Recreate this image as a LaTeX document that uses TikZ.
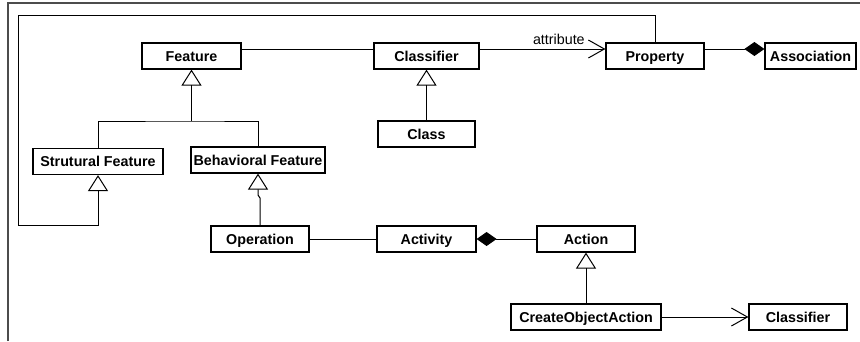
\documentclass[tikz,border=0pt]{standalone}
\usepackage{fontspec}
\setmainfont{Liberation Sans}
\usetikzlibrary{arrows.meta}
\tikzset{
  cls/.style={draw, line width=1.2pt, inner sep=0pt, minimum height=26pt,
    text height=10.3pt, text depth=0pt,
    font=\fontsize{14.3}{17}\selectfont\bfseries},
  gen/.style={line width=1pt, -{Triangle[open, length=16pt, width=20pt]}},
  nav/.style={line width=1pt, -{Straight Barb[length=16pt, width=18pt]}},
  comp/.style={line width=1pt, -{Diamond[length=20pt, width=14pt]}},
  assoc/.style={line width=1pt}
}
\begin{document}
\begin{tikzpicture}[x=1pt, y=-1pt]
\useasboundingbox (0,0) rectangle (860,341);
\draw[line width=1.6pt, black!70] (8,341) -- (8,3) -- (860,3);
% classes
\node[cls, minimum width=99pt] (feat) at (191.5,56) {Feature};
\node[cls, minimum width=105pt] (clsTop) at (426.5,56) {Classifier};
\node[cls, minimum width=98pt] (prop) at (655,56) {Property};
\node[cls, minimum width=91pt] (asc) at (810.5,56) {Association};
\node[cls, minimum width=97pt] (cls) at (426.5,134) {Class};
\node[cls, minimum width=130pt] (sf) at (98,161.5) {Strutural Feature};
\node[cls, minimum width=134pt] (bf) at (258,160) {Behavioral Feature};
\node[cls, minimum width=98pt] (op) at (260,239) {Operation};
\node[cls, minimum width=99pt] (act) at (426.5,239) {Activity};
\node[cls, minimum width=98pt] (action) at (586,239) {Action};
\node[cls, minimum width=150pt] (coa) at (586,317) {CreateObjectAction};
\node[cls, minimum width=98pt] (clsBot) at (798,317) {Classifier};
% relations
\coordinate (fj) at (191.5,121);
\draw[assoc] (sf.north) |- (fj) -| (bf.north);
\draw[gen] (fj) -- (feat.south);
\draw[gen] (cls.north) -- (clsTop.south);
\draw[assoc] ([yshift=7pt]feat.east) -- ([yshift=7pt]clsTop.west);
\draw[nav] ([yshift=7pt]clsTop.east) -- ([yshift=7pt]prop.west)
  node[pos=0.63, above, yshift=1pt, font=\fontsize{14.3}{17}\selectfont] (attr) {attribute};
\draw[comp] ([yshift=7pt]prop.east) -- ([yshift=7pt]asc.west);
\draw[gen] (prop.north) |- (18,15) |- (sf.south |- 0,225) -- (sf.south);
\draw[gen] (op.north) -- (op.north |- 0,198) -- (bf.south |- 0,195) -- (bf.south);
\draw[assoc] (op.east) -- (act.west);
\draw[comp] (action.west) -- (act.east);
\draw[gen] (coa.north) -- (action.south);
\draw[nav] (coa.east) -- (clsBot.west);
\end{tikzpicture}
\end{document}
